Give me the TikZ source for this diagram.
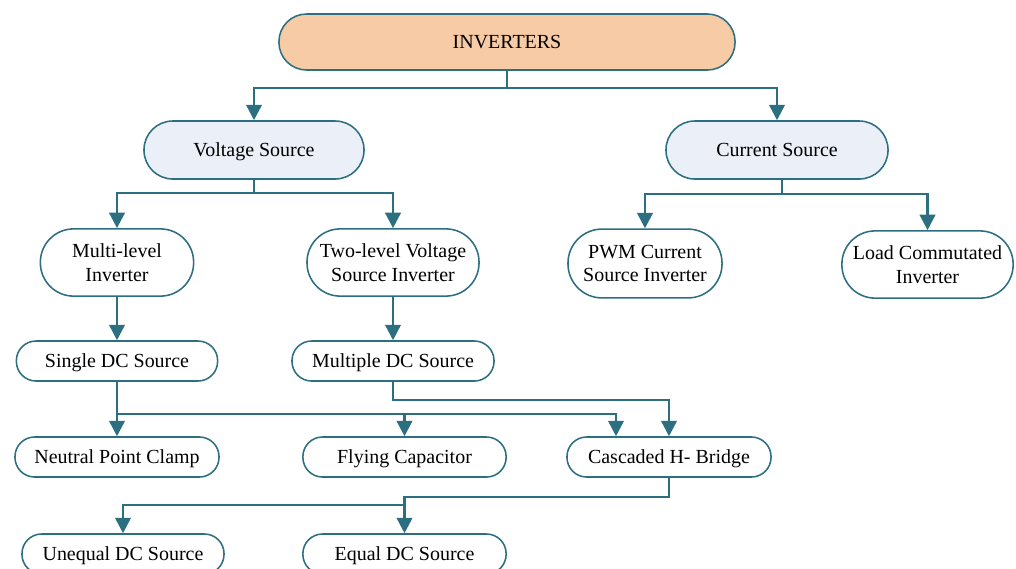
\documentclass[tikz,border=0pt]{standalone}
\usepackage{fontspec}
\setmainfont{Liberation Serif}
\usepackage{tikz}
\usetikzlibrary{arrows.meta}
\definecolor{tealline}{RGB}{44,111,128}
\definecolor{peach}{RGB}{248,203,167}
\definecolor{paleblue}{RGB}{235,239,248}

\begin{document}
\begin{tikzpicture}[x=0.025cm,y=-0.025cm,
    stadium/.style={rectangle, rounded corners=#1, draw=tealline, line width=1.1pt,
        fill=white, align=center, inner sep=0pt, font=\fontsize{14.2}{17}\selectfont},
    oneline/.style={text height=9.4pt, text depth=0pt},
    link/.style={draw=tealline, line width=1.9pt, -{Triangle[width=11pt,length=11pt]}},
    wire/.style={draw=tealline, line width=1.9pt}]
    \useasboundingbox (0,0) rectangle (1016,568); % same frame as the reference

    % top levels
    \node[stadium=0.69cm, oneline, fill=peach, minimum width=11.4cm, minimum height=1.4cm] (inv) at (507,42) {INVERTERS};
    \node[stadium=0.72cm, oneline, fill=paleblue, minimum width=5.5cm, minimum height=1.45cm] (vs) at (254,150) {Voltage Source};
    \node[stadium=0.72cm, oneline, fill=paleblue, minimum width=5.55cm, minimum height=1.45cm] (cs) at (777,150) {Current Source};

    % inverter types
    \node[stadium=0.83cm, minimum width=3.83cm, minimum height=1.68cm] (ml) at (117,262.5) {Multi-level\\Inverter};
    \node[stadium=0.83cm, minimum width=4.3cm, minimum height=1.68cm] (tl) at (393,262.5) {Two-level Voltage\\Source Inverter};
    \node[stadium=0.85cm, minimum width=3.85cm, minimum height=1.72cm] (pwm) at (645,263.5) {PWM Current\\Source Inverter};
    \node[stadium=0.83cm, minimum width=4.28cm, minimum height=1.68cm] (lci) at (927.5,264.5) {Load Commutated\\Inverter};

    % dc sources
    \node[stadium=0.49cm, oneline, minimum width=5.03cm, minimum height=1cm] (sdc) at (117,361) {Single DC Source};
    \node[stadium=0.49cm, oneline, minimum width=5.05cm, minimum height=1cm] (mdc) at (393,361) {Multiple DC Source};

    % topologies
    \node[stadium=0.49cm, oneline, minimum width=5.1cm, minimum height=1cm] (npc) at (117,457) {Neutral Point Clamp};
    \node[stadium=0.49cm, oneline, minimum width=5.08cm, minimum height=1cm] (fc) at (404.5,457) {Flying Capacitor};
    \node[stadium=0.49cm, oneline, minimum width=5.1cm, minimum height=1cm] (chb) at (669,457) {Cascaded H- Bridge};

    % bottom row (cut by the frame)
    \node[stadium=0.49cm, oneline, minimum width=5.05cm, minimum height=1cm] (ueq) at (123,554) {Unequal DC Source};
    \node[stadium=0.49cm, oneline, minimum width=5.08cm, minimum height=1cm] (eq) at (404.5,554) {Equal DC Source};

    % junctions
    \coordinate (j1) at (507,88);
    \coordinate (j2) at (254,193);
    \coordinate (j3) at (782,194);
    \coordinate (j4) at (117,414);
    \coordinate (j5) at (393,400);
    \coordinate (j6) at (669,497);
    \coordinate (j7) at (404.5,505);

    \draw[wire] (inv.south) -- (j1);
    \draw[link] (j1) -| (vs.north);
    \draw[link] (j1) -| (cs.north);

    \draw[wire] (vs.south) -- (j2);
    \draw[link] (j2) -| (ml.north);
    \draw[link] (j2) -| (tl.north);

    \draw[wire] (cs.south -| j3) -- (j3);
    \draw[link] (j3) -| (pwm.north);
    \draw[link] (j3) -| (lci.north);

    \draw[link] (ml) -- (sdc);
    \draw[link] (tl) -- (mdc);

    \draw[link] (sdc.south) -- (npc.north);
    \draw[link] (j4) -| (fc.north);
    \draw[link] (j4) -| ([xshift=-1.325cm]chb.north);
    \draw[link] (mdc.south) -- (j5) -| (chb.north);

    \draw[link] (chb.south) -- (j6) -| (eq.north);
    \draw[link] (j7) -| (ueq.north);
\end{tikzpicture}
\end{document}
